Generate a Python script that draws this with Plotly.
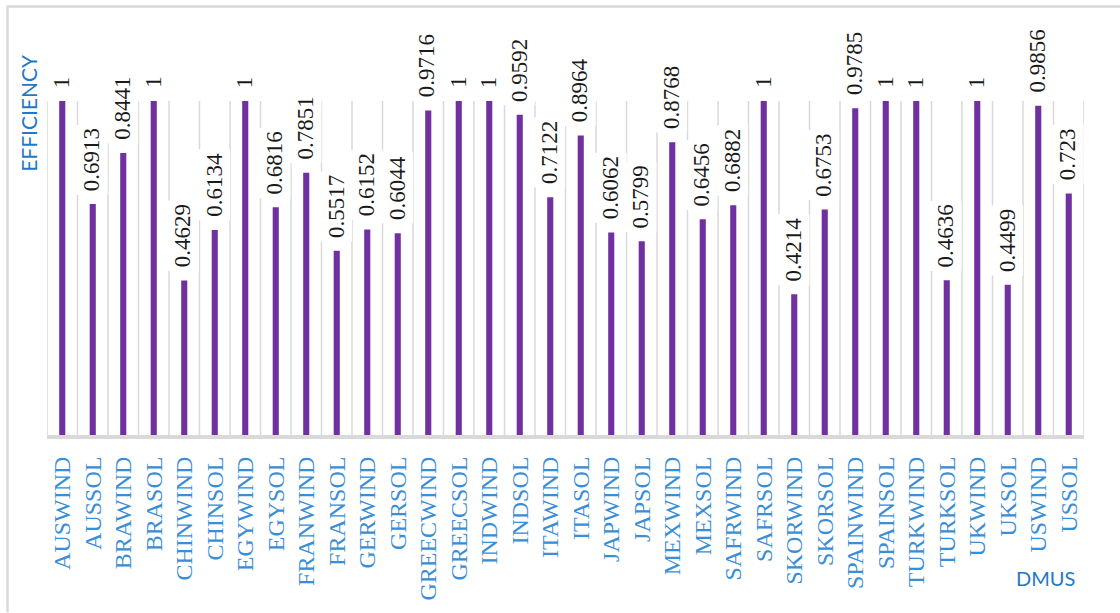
import plotly.graph_objects as go

categories = ["AUSWIND", "AUSSOL", "BRAWIND", "BRASOL", "CHINWIND", "CHINSOL", "EGYWIND", "EGYSOL",
              "FRANWIND", "FRANSOL", "GERWIND", "GERSOL", "GREECWIND", "GREECSOL", "INDWIND", "INDSOL",
              "ITAWIND", "ITASOL", "JAPWIND", "JAPSOL", "MEXWIND", "MEXSOL", "SAFRWIND", "SAFRSOL",
              "SKORWIND", "SKORSOL", "SPAINWIND", "SPAINSOL", "TURKWIND", "TURKSOL", "UKWIND", "UKSOL",
              "USWIND", "USSOL"]
efficiency = [1, 0.6913, 0.8441, 1, 0.4629, 0.6134, 1, 0.6816,
              0.7851, 0.5517, 0.6152, 0.6044, 0.9716, 1, 1, 0.9592,
              0.7122, 0.8964, 0.6062, 0.5799, 0.8768, 0.6456, 0.6882, 1,
              0.4214, 0.6753, 0.9785, 1, 1, 0.4636, 1, 0.4499,
              0.9856, 0.723]
value_labels = [f"{v:g}" for v in efficiency]

W, H = 1120, 613
L, R, T, B = 46.5, 1084, 101, 440
PW, PH = R - L, B - T

def px(x):
    return (x - L) / PW

def py(y):
    return (B - y) / PH

PURPLE = "#7030A0"
BLUE = "#1F78C8"
TICKBLUE = "#3A8ED6"
GRID = "#d9d9d9"

fig = go.Figure()
fig.add_trace(go.Bar(x=categories, y=efficiency, marker_color=PURPLE, width=0.2,
                     marker_line_width=0, hoverinfo="x+y"))

shapes = []
n = len(categories)
for i in range(n + 1):
    shapes.append(dict(type="line", xref="x", yref="y", x0=i - 0.5, x1=i - 0.5, y0=0, y1=1,
                       line=dict(color=GRID, width=1.5), layer="below"))
# outer border (left and top)
shapes.append(dict(type="line", xref="paper", yref="paper", x0=px(7), x1=px(7), y0=py(5), y1=py(620),
                   line=dict(color=GRID, width=2.5)))
shapes.append(dict(type="line", xref="paper", yref="paper", x0=px(6), x1=px(1130), y0=py(5), y1=py(5),
                   line=dict(color=GRID, width=2.5)))

annotations = []
for c, v, t in zip(categories, efficiency, value_labels):
    annotations.append(dict(x=c, y=v, xref="x", yref="y", text=t, showarrow=False,
                            textangle=-90, yanchor="bottom", xanchor="center", yshift=9, xshift=-1,
                            bgcolor="white", borderpad=3,
                            font=dict(family="Liberation Serif", size=23, color="#1a1a1a")))
annotations.append(dict(x=px(28.5), y=py(113), xref="paper", yref="paper", text="EFFICIENCY",
                        showarrow=False, textangle=-90, xanchor="center", yanchor="middle",
                        font=dict(family="Lato", size=21, color=BLUE)))
annotations.append(dict(x=px(1045), y=py(585), xref="paper", yref="paper", text="DMUS",
                        showarrow=False, xanchor="center", yanchor="middle",
                        font=dict(family="Lato", size=20, color=BLUE)))

fig.update_layout(
    width=W, height=H,
    margin=dict(l=L, r=W - R, t=T, b=H - B, pad=0),
    paper_bgcolor="white", plot_bgcolor="white",
    showlegend=False,
    shapes=shapes, annotations=annotations,
    bargap=0.8,
    xaxis=dict(type="category", range=[-0.5, n - 0.5], showgrid=False, zeroline=False,
               showline=True, linecolor=GRID, linewidth=4, ticks="",
               tickangle=-90, ticklabelstandoff=8,
               tickfont=dict(family="Liberation Serif", size=24, color=TICKBLUE)),
    yaxis=dict(range=[0, 1], visible=False, showgrid=False, zeroline=False),
)

fig.write_html("out.html")
